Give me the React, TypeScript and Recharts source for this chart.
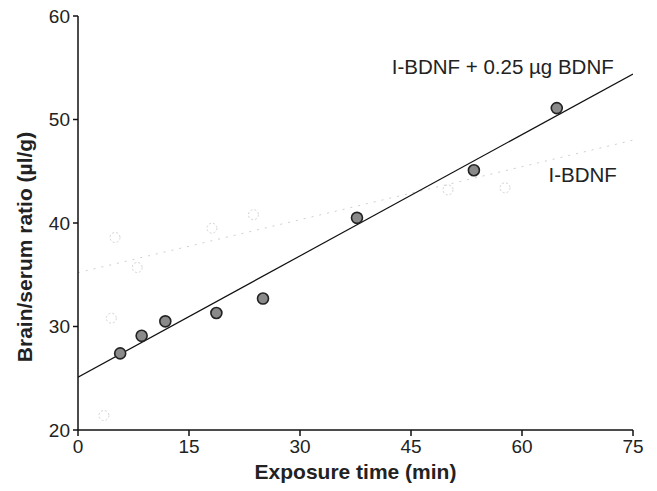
import React from "react";
import {
  ComposedChart,
  Line,
  Scatter,
  XAxis,
  YAxis,
  ReferenceDot,
} from "recharts";

// I-BDNF + 0.25 µg BDNF (dark points)
const withBdnfTime = [5.7, 8.6, 11.8, 18.7, 25.0, 37.7, 53.5, 64.7];
const withBdnfRatio = [27.4, 29.1, 30.5, 31.3, 32.7, 40.5, 45.1, 51.1];

// I-BDNF alone (faint points in the scan)
const aloneTime = [3.5, 4.5, 5.0, 8.0, 18.1, 23.7, 50.0, 57.7];
const aloneRatio = [21.4, 30.8, 38.6, 35.7, 39.5, 40.8, 43.2, 43.4];

// regression lines (end points)
const fitTime = [0, 75];
const withBdnfFit = [25.1, 54.4];
const aloneFit = [35.2, 48.0];

const xTicks = [0, 15, 30, 45, 60, 75];
const yTicks = [20, 30, 40, 50, 60];

const withBdnfPts = withBdnfTime.map((t, i) => ({ t, v: withBdnfRatio[i] }));
const alonePts = aloneTime.map((t, i) => ({ t, v: aloneRatio[i] }));
const withBdnfLine = fitTime.map((t, i) => ({ t, v: withBdnfFit[i] }));
const aloneLine = fitTime.map((t, i) => ({ t, v: aloneFit[i] }));

const font = "'Liberation Sans', Arial, sans-serif";
const tickStyle = { fill: "#222", fontSize: 19, fontFamily: font };

const DarkDot = (props: any) => {
  const { cx, cy } = props;
  return <circle cx={cx} cy={cy} r={5.5} fill="#8a8a8a" stroke="#222" strokeWidth={1.6} />;
};

const FaintDot = (props: any) => {
  const { cx, cy } = props;
  return <circle cx={cx} cy={cy} r={5} fill="none" stroke="#d4d4d4" strokeWidth={1} strokeDasharray="2 2" />;
};

// y title sits a bit below the plot centre in the original
const YTitle = (props: any) => {
  const { viewBox } = props;
  const cx = 24;
  const cy = viewBox.y + viewBox.height / 2 + 24;
  return (
    <text
      x={cx}
      y={cy}
      transform={`rotate(-90 ${cx} ${cy})`}
      textAnchor="middle"
      dominantBaseline="central"
      fill="#222"
      fontSize={21}
      fontWeight="bold"
      fontFamily={font}
    >
      Brain/serum ratio (µl/g)
    </text>
  );
};

export default function App() {
  return (
    <div style={{ position: "absolute", left: 0, top: 0, background: "#fff" }}>
      <ComposedChart
        width={657}
        height={491}
        margin={{ top: 16, right: 24, bottom: 31, left: 18 }}
      >
        <XAxis
          type="number"
          dataKey="t"
          domain={[0, 75]}
          ticks={xTicks}
          allowDataOverflow
          height={30}
          stroke="#111"
          strokeWidth={1.5}
          tickSize={6}
          tickMargin={4}
          tick={tickStyle}
          label={{
            value: "Exposure time (min)",
            position: "insideBottom",
            offset: -19,
            style: { fill: "#222", fontSize: 21, fontWeight: "bold", fontFamily: font },
          }}
        />
        <YAxis
          type="number"
          dataKey="v"
          domain={[20, 60]}
          ticks={yTicks}
          allowDataOverflow
          width={60}
          stroke="#111"
          strokeWidth={1.5}
          tickSize={5}
          tickMargin={3}
          tick={tickStyle}
          label={<YTitle />}
        />
        <Line
          data={aloneLine}
          dataKey="v"
          stroke="#cfcfcf"
          strokeWidth={1}
          strokeDasharray="2 6"
          dot={false}
          isAnimationActive={false}
        />
        <Scatter data={alonePts} dataKey="v" shape={FaintDot} isAnimationActive={false} />
        <Line
          data={withBdnfLine}
          dataKey="v"
          stroke="#111"
          strokeWidth={1.2}
          dot={false}
          isAnimationActive={false}
        />
        <Scatter data={withBdnfPts} dataKey="v" shape={DarkDot} isAnimationActive={false} />
        <ReferenceDot
          x={57.4}
          y={55.1}
          r={0}
          label={{
            value: "I-BDNF + 0.25 µg BDNF",
            position: "center",
            style: { fill: "#222", fontSize: 20.5, fontFamily: font },
          }}
        />
        <ReferenceDot
          x={68.2}
          y={44.7}
          r={0}
          label={{
            value: "I-BDNF",
            position: "center",
            style: { fill: "#222", fontSize: 20.5, fontFamily: font },
          }}
        />
      </ComposedChart>
    </div>
  );
}
